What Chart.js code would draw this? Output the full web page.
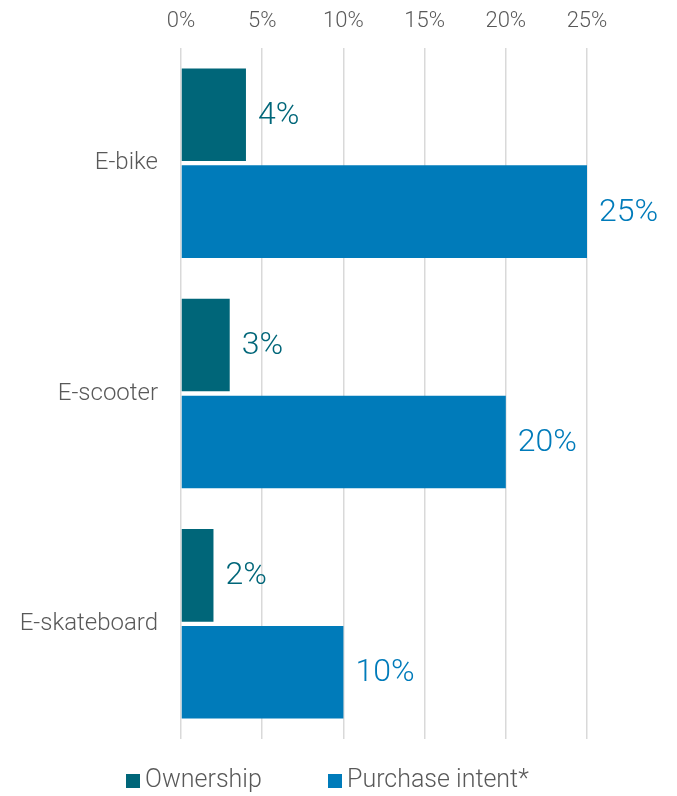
<!DOCTYPE html>
<html lang="en">
<head>
  <meta charset="UTF-8">
  <title>E-mobility ownership</title>
  <script src="https://cdn.jsdelivr.net/npm/chart.js"></script>
  <style>
    html, body {
      margin: 0;
      padding: 0;
      background: #ffffff;
    }
    .chart-container {
      width: 677px;
      height: 796px;
    }
  </style>
</head>
<body>

<div class="chart-container">
  <canvas id="barChart" width="677" height="796"></canvas>
</div>

<script>
const categorias = ['E-bike', 'E-scooter', 'E-skateboard'];
const ownership = [4, 3, 2];
const purchaseIntent = [25, 20, 10];
const xTicks = [0, 5, 10, 15, 20, 25];

const FONT = 'Roboto, "Liberation Sans", sans-serif';
const GRIS = '#595959';

// etiquetas de valor al final de cada barra
const etiquetasPlugin = {
  id: 'etiquetas',
  afterDatasetsDraw(chart) {
    const ctx = chart.ctx;
    ctx.save();
    ctx.font = '300 32px ' + FONT;
    ctx.textAlign = 'left';
    ctx.textBaseline = 'middle';
    chart.data.datasets.forEach((ds, i) => {
      const meta = chart.getDatasetMeta(i);
      ctx.fillStyle = ds.backgroundColor;
      meta.data.forEach((bar, j) => {
        ctx.fillText(ds.data[j] + '%', bar.x + 12, bar.y + 1);
      });
    });
    ctx.restore();
  }
};

// leyenda abajo
const leyendaPlugin = {
  id: 'leyenda',
  afterDraw(chart) {
    const ctx = chart.ctx;
    const y = 781;
    const posiciones = [126, 328];
    ctx.save();
    ctx.font = '300 25px ' + FONT;
    ctx.textBaseline = 'middle';
    chart.data.datasets.forEach((ds, i) => {
      const x = posiciones[i];
      ctx.fillStyle = ds.backgroundColor;
      ctx.fillRect(x, y - 7, 14, 14);
      ctx.fillStyle = GRIS;
      ctx.fillText(ds.label, x + 19, y);
    });
    ctx.restore();
  }
};

new Chart(document.getElementById('barChart').getContext('2d'), {
  type: 'bar',
  data: {
    labels: categorias,
    datasets: [{
      label: 'Ownership',
      data: ownership,
      backgroundColor: '#006679',
      categoryPercentage: 0.842,
      barPercentage: 0.955
    }, {
      label: 'Purchase intent*',
      data: purchaseIntent,
      backgroundColor: '#007BBA',
      categoryPercentage: 0.842,
      barPercentage: 0.955
    }]
  },
  options: {
    indexAxis: 'y',
    responsive: false,
    animation: false,
    layout: {
      padding: { top: 10, right: 90, bottom: 57, left: 0 }
    },
    scales: {
      x: {
        position: 'top',
        min: 0,
        max: 25,
        afterBuildTicks: (axis) => { axis.ticks = xTicks.map(v => ({ value: v })); },
        afterFit: (axis) => { axis.height = 38; },
        ticks: {
          callback: v => v + '%',
          color: GRIS,
          font: { family: FONT, size: 22, weight: 300 },
          padding: 13,
          maxRotation: 0
        },
        grid: { color: '#d9d9d9', lineWidth: 1.5, drawTicks: false },
        border: { display: false }
      },
      y: {
        afterFit: (axis) => { axis.width = 181; },
        ticks: {
          color: GRIS,
          font: { family: FONT, size: 24, weight: 300 },
          padding: 23
        },
        grid: { display: false, drawTicks: false },
        border: { display: false }
      }
    },
    plugins: {
      legend: { display: false },
      tooltip: { enabled: false }
    }
  },
  plugins: [etiquetasPlugin, leyendaPlugin]
});
</script>

</body>
</html>
